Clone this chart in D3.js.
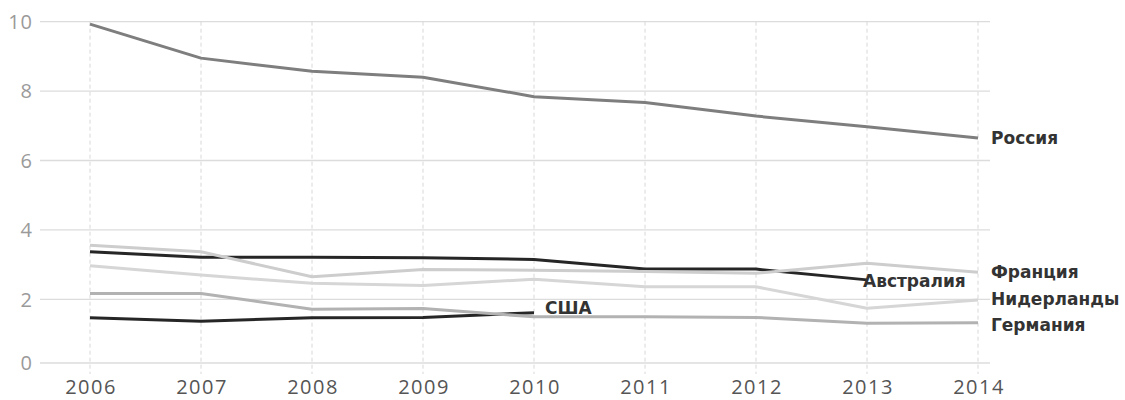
<!DOCTYPE html>
<html>
<head>
<meta charset="utf-8">
<script src="https://cdn.jsdelivr.net/npm/d3@7"></script>
<style>
  html, body { margin: 0; padding: 0; background: #fff; }
  svg { display: block; }
</style>
</head>
<body>
<svg id="chart" width="1125" height="400"></svg>
<script>
// Years on the horizontal axis
const years = [2006, 2007, 2008, 2009, 2010, 2011, 2012, 2013, 2014];
const yTicks = [0, 2, 4, 6, 8, 10];

// Series values per year (null = no data)
const russia      = [9.93, 8.95, 8.57, 8.40, 7.84, 7.67, 7.28, 6.97, 6.65];
const australia   = [3.37, 3.21, 3.21, 3.20, 3.15, 2.87, 2.87, 2.56, null];
const france      = [3.56, 3.37, 2.65, 2.86, 2.84, 2.80, 2.75, 3.04, 2.78];
const netherlands = [2.97, 2.70, 2.46, 2.40, 2.58, 2.36, 2.36, 1.72, 1.98];
const germany     = [2.17, 2.17, 1.69, 1.71, 1.45, 1.45, 1.43, 1.25, 1.26];
const usa         = [1.42, 1.31, 1.42, 1.43, 1.58, null, null, null, null];

const seriesNames = ["Россия", "США", "Австралия", "Германия", "Нидерланды", "Франция"];
const seriesData  = [russia, usa, australia, germany, netherlands, france];
const seriesColors = ["#7e7e7e", "#262626", "#262626", "#b2b2b2", "#d6d6d6", "#cdcdcd"];

const svg = d3.select("#chart");

const x = d3.scaleLinear().domain([2006, 2014]).range([90, 978]);
// the bottom band (0..2) is slightly compressed
const y = d3.scaleLinear().domain([0, 2, 10]).range([363, 299.3, 21.7]);

const gridLeft = 40, gridRight = 990;

// horizontal grid
svg.append("g")
  .selectAll("line")
  .data(yTicks)
  .join("line")
  .attr("x1", gridLeft).attr("x2", gridRight)
  .attr("y1", d => y(d)).attr("y2", d => y(d))
  .attr("stroke", "#dcdcdc")
  .attr("stroke-width", 1.3);

// vertical dashed grid
svg.append("g")
  .selectAll("line")
  .data(years)
  .join("line")
  .attr("x1", d => x(d)).attr("x2", d => x(d))
  .attr("y1", y(10)).attr("y2", 374)
  .attr("stroke", "#d8d8d8")
  .attr("stroke-width", 1)
  .attr("stroke-dasharray", "4,3");

// y-axis labels
svg.append("g")
  .selectAll("text")
  .data(yTicks)
  .join("text")
  .attr("x", 33)
  .attr("y", d => y(d))
  .attr("dy", "0.36em")
  .attr("text-anchor", "end")
  .attr("font-family", "'Open Sans', sans-serif")
  .attr("font-size", 20)
  .attr("letter-spacing", 1)
  .attr("fill", "#9a9a9a")
  .text(d => d);

// x-axis labels
svg.append("g")
  .selectAll("text")
  .data(years)
  .join("text")
  .attr("x", d => x(d) + 1)
  .attr("y", 394)
  .attr("text-anchor", "middle")
  .attr("font-family", "'Open Sans', sans-serif")
  .attr("font-size", 20)
  .attr("letter-spacing", 1.5)
  .attr("fill", "#555")
  .text(d => d);

// series lines
const line = d3.line()
  .defined(d => d.v != null)
  .x(d => x(d.year))
  .y(d => y(d.v));

seriesData.forEach((vals, i) => {
  const pts = years.map((yr, j) => ({ year: yr, v: vals[j] }));
  svg.append("path")
    .datum(pts)
    .attr("fill", "none")
    .attr("stroke", seriesColors[i])
    .attr("stroke-width", 3)
    .attr("stroke-linejoin", "round")
    .attr("d", line);
});

// series labels
function lastPoint(vals) {
  let k = vals.length - 1;
  while (vals[k] == null) k--;
  return { year: years[k], v: vals[k] };
}

const labelStyle = sel => sel
  .attr("font-family", "'DejaVu Sans', sans-serif")
  .attr("font-weight", "bold")
  .attr("font-size", 17)
  .attr("fill", "#333")
  .attr("dy", "0.36em");

// labels at the right edge (offsets keep them from overlapping)
const rightLabels = [
  { name: "Россия", vals: russia, shift: 0 },
  { name: "Франция", vals: france, shift: 0 },
  { name: "Нидерланды", vals: netherlands, shift: -1 },
  { name: "Германия", vals: germany, shift: 2 }
];
rightLabels.forEach(l => {
  const p = lastPoint(l.vals);
  svg.append("text")
    .attr("x", x(p.year) + 13)
    .attr("y", y(p.v) + l.shift)
    .call(labelStyle)
    .text(l.name);
});

// inline labels where the line stops early
const pa = lastPoint(australia);
svg.append("text")
  .attr("x", x(pa.year) - 4)
  .attr("y", y(pa.v) + 1)
  .call(labelStyle)
  .text("Австралия");

const pu = lastPoint(usa);
svg.append("text")
  .attr("x", x(pu.year) + 11)
  .attr("y", y(pu.v) - 5)
  .call(labelStyle)
  .text("США");
</script>
</body>
</html>
